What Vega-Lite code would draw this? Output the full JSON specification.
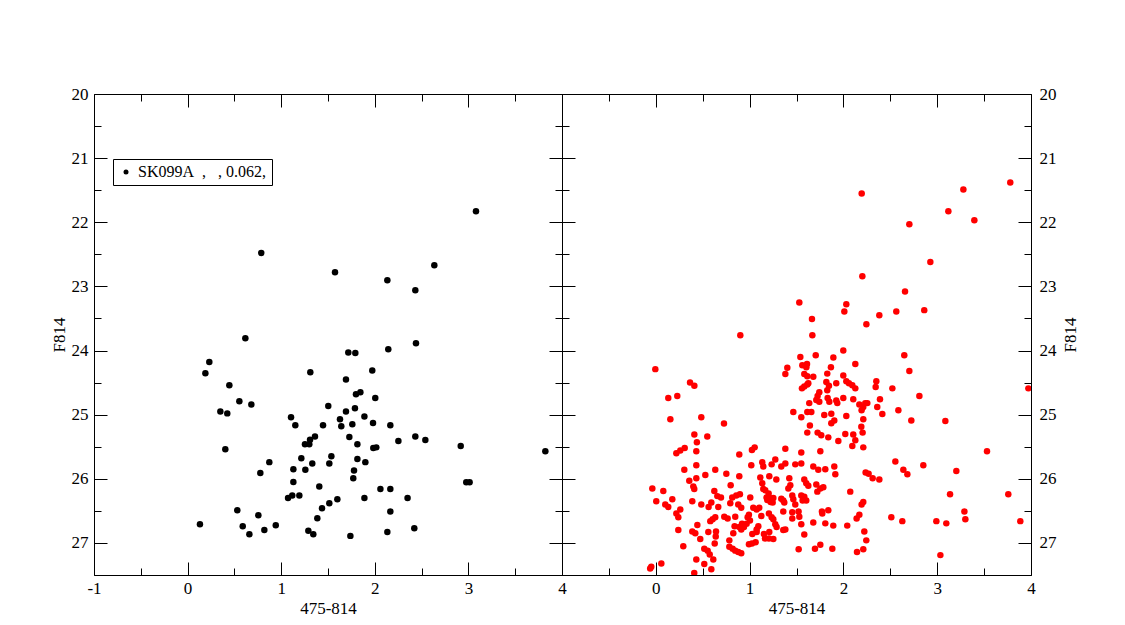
{
  "$schema": "https://vega.github.io/schema/vega-lite/v6.json",
  "background": "white",
  "padding": {"left": 50, "top": 85, "right": 5, "bottom": 5},
  "spacing": 0,
  "bounds": "flush",
  "config": {
    "font": "Liberation Serif",
    "view": {"stroke": null},
    "axis": {
      "grid": false, "domainColor": "black", "domainWidth": 1, "tickColor": "black", "tickWidth": 1,
      "labelColor": "black", "titleColor": "black", "labelFont": "Liberation Serif", "titleFont": "Liberation Serif",
      "labelFontSize": 17, "titleFontSize": 17, "titleFontWeight": "normal", "labelFlush": false, "labelOverlap": false, "format": "d"
    }
  },
  "datasets": {
    "left": [
      {"x":0.787,"y":22.48},{"x":1.575,"y":22.78},{"x":0.617,"y":23.81},{"x":0.232,"y":24.18},{"x":0.19,"y":24.355},{"x":1.311,"y":24.34},
      {"x":3.081,"y":21.83},{"x":2.636,"y":22.67},{"x":2.134,"y":22.905},{"x":2.433,"y":23.06},{"x":2.44,"y":23.887},{"x":1.717,"y":24.03},
      {"x":1.792,"y":24.04},{"x":2.144,"y":23.98},{"x":1.973,"y":24.31},{"x":1.692,"y":24.45},{"x":0.446,"y":24.54},{"x":0.553,"y":24.79},
      {"x":0.681,"y":24.84},{"x":0.35,"y":24.95},{"x":0.424,"y":24.98},{"x":1.503,"y":24.865},{"x":1.105,"y":25.04},{"x":1.151,"y":25.165},
      {"x":1.447,"y":25.165},{"x":1.361,"y":25.34},{"x":1.308,"y":25.39},{"x":1.254,"y":25.46},{"x":1.3,"y":25.46},{"x":0.403,"y":25.54},
      {"x":1.215,"y":25.68},{"x":1.536,"y":25.65},{"x":1.514,"y":25.76},{"x":0.873,"y":25.74},{"x":1.332,"y":25.76},{"x":1.13,"y":25.85},
      {"x":1.258,"y":25.86},{"x":0.777,"y":25.91},{"x":1.13,"y":26.05},{"x":1.407,"y":26.12},{"x":1.073,"y":26.3},{"x":1.118,"y":26.26},
      {"x":1.194,"y":26.26},{"x":1.514,"y":26.38},{"x":1.436,"y":26.46},{"x":1.386,"y":26.615},{"x":0.531,"y":26.49},{"x":0.756,"y":26.57},
      {"x":0.132,"y":26.71},{"x":0.589,"y":26.74},{"x":0.942,"y":26.725},{"x":0.82,"y":26.8},{"x":0.66,"y":26.865},{"x":1.29,"y":26.81},
      {"x":1.343,"y":26.865},{"x":1.799,"y":24.68},{"x":1.846,"y":24.65},{"x":2.005,"y":24.74},{"x":1.692,"y":24.95},{"x":1.788,"y":24.9},
      {"x":1.628,"y":25.07},{"x":1.642,"y":25.18},{"x":1.76,"y":25.15},{"x":1.889,"y":25.03},{"x":1.981,"y":25.13},{"x":2.166,"y":25.165},
      {"x":1.728,"y":25.35},{"x":1.814,"y":25.46},{"x":2.252,"y":25.41},{"x":2.433,"y":25.34},{"x":2.54,"y":25.395},{"x":1.984,"y":25.52},
      {"x":2.016,"y":25.51},{"x":2.918,"y":25.49},{"x":3.822,"y":25.57},{"x":1.814,"y":25.69},{"x":1.899,"y":25.74},{"x":1.778,"y":25.87},
      {"x":1.77,"y":25.99},{"x":2.977,"y":26.055},{"x":3.013,"y":26.055},{"x":2.06,"y":26.16},{"x":2.166,"y":26.16},{"x":1.6,"y":26.32},
      {"x":1.889,"y":26.3},{"x":2.35,"y":26.3},{"x":2.166,"y":26.51},{"x":2.422,"y":26.77},{"x":2.134,"y":26.83},{"x":1.739,"y":26.89}
    ],
    "right": [
      {"x":-0.005,"y":24.29},{"x":0.901,"y":23.76},{"x":1.402,"y":24.27},{"x":2.195,"y":21.55},{"x":3.779,"y":21.38},{"x":3.279,"y":21.49},
      {"x":3.119,"y":21.83},{"x":3.396,"y":21.97},{"x":2.703,"y":22.03},{"x":2.927,"y":22.62},{"x":2.202,"y":22.84},{"x":2.657,"y":23.08},
      {"x":1.53,"y":23.25},{"x":2.031,"y":23.28},{"x":2.01,"y":23.39},{"x":2.564,"y":23.39},{"x":2.862,"y":23.37},{"x":2.383,"y":23.45},
      {"x":1.665,"y":23.51},{"x":2.245,"y":23.59},{"x":1.669,"y":23.76},{"x":1.999,"y":24.0},{"x":2.649,"y":24.075},{"x":1.541,"y":24.1},
      {"x":1.705,"y":24.075},{"x":1.893,"y":24.11},{"x":1.562,"y":24.23},{"x":1.612,"y":24.21},{"x":1.605,"y":24.26},{"x":1.867,"y":24.26},
      {"x":2.127,"y":24.21},{"x":2.703,"y":24.32},
      {"x":0.365,"y":24.5},{"x":0.411,"y":24.55},{"x":0.133,"y":24.74},{"x":0.229,"y":24.71},{"x":0.485,"y":25.04},{"x":0.155,"y":25.07},
      {"x":0.411,"y":25.31},{"x":0.549,"y":25.34},{"x":0.438,"y":25.43},{"x":0.219,"y":25.6},{"x":0.261,"y":25.56},{"x":0.308,"y":25.52},
      {"x":0.432,"y":25.57},{"x":0.432,"y":25.79},{"x":0.304,"y":25.86},{"x":0.528,"y":25.94},{"x":0.634,"y":25.86},{"x":0.432,"y":25.99},
      {"x":0.357,"y":26.03},{"x":0.4,"y":26.12},{"x":0.41,"y":26.16},{"x":-0.037,"y":26.15},{"x":0.08,"y":26.19},{"x":0.624,"y":26.19},
      {"x":0.656,"y":26.27},{"x":0.176,"y":26.32},{"x":0.005,"y":26.35},{"x":0.389,"y":26.35},{"x":0.101,"y":26.4},{"x":0.133,"y":26.44},
      {"x":0.485,"y":26.4},{"x":0.592,"y":26.37},{"x":0.563,"y":26.44},{"x":0.666,"y":26.44},{"x":0.261,"y":26.48},{"x":0.219,"y":26.54},
      {"x":0.24,"y":26.6},{"x":0.581,"y":26.66},{"x":0.606,"y":26.63},{"x":0.634,"y":26.6},{"x":0.443,"y":26.72},{"x":0.24,"y":26.8},
      {"x":0.389,"y":26.82},{"x":0.421,"y":26.85},{"x":0.56,"y":26.83},{"x":0.642,"y":26.82},{"x":0.639,"y":26.9},{"x":0.628,"y":27.01},
      {"x":0.474,"y":26.94},{"x":0.293,"y":27.05},{"x":0.517,"y":27.09},{"x":0.553,"y":27.12},{"x":0.575,"y":27.18},{"x":0.432,"y":27.26},
      {"x":0.613,"y":27.26},{"x":0.059,"y":27.32},{"x":-0.048,"y":27.37},{"x":-0.06,"y":27.4},{"x":0.517,"y":27.33},{"x":0.592,"y":27.41},
      {"x":0.41,"y":27.47},
      {"x":1.381,"y":24.366},{"x":1.583,"y":24.366},{"x":1.615,"y":24.4},{"x":1.679,"y":24.41},{"x":1.828,"y":24.36},{"x":1.999,"y":24.39},
      {"x":1.558,"y":24.59},{"x":1.583,"y":24.56},{"x":1.615,"y":24.53},{"x":1.626,"y":24.51},{"x":1.818,"y":24.49},{"x":1.846,"y":24.55},
      {"x":1.828,"y":24.62},{"x":1.924,"y":24.51},{"x":2.031,"y":24.48},{"x":2.059,"y":24.51},{"x":2.095,"y":24.54},{"x":2.127,"y":24.59},
      {"x":2.351,"y":24.48},{"x":2.344,"y":24.57},{"x":1.743,"y":24.65},{"x":1.725,"y":24.71},{"x":1.711,"y":24.77},{"x":1.743,"y":24.8},
      {"x":1.636,"y":24.82},{"x":1.832,"y":24.74},{"x":1.85,"y":24.8},{"x":1.924,"y":24.78},{"x":1.935,"y":24.82},{"x":1.999,"y":24.74},
      {"x":2.105,"y":24.76},{"x":2.17,"y":24.84},{"x":2.212,"y":24.88},{"x":2.194,"y":24.93},{"x":2.233,"y":24.82},{"x":2.255,"y":24.82},
      {"x":2.361,"y":24.88},{"x":1.466,"y":24.96},{"x":1.615,"y":24.96},{"x":1.658,"y":24.96},{"x":1.551,"y":25.04},{"x":1.796,"y":25.005},
      {"x":1.871,"y":24.985},{"x":2.031,"y":25.02},{"x":2.212,"y":25.07},{"x":1.871,"y":25.135},{"x":1.903,"y":25.09},{"x":1.643,"y":25.17},
      {"x":2.191,"y":25.19},{"x":1.615,"y":25.28},{"x":1.725,"y":25.28},{"x":1.764,"y":25.32},{"x":1.839,"y":25.354},{"x":1.946,"y":25.41},
      {"x":2.02,"y":25.3},{"x":2.105,"y":25.31},{"x":2.127,"y":25.4},{"x":2.205,"y":25.28},{"x":2.095,"y":25.49},{"x":2.212,"y":25.51},
      {"x":0.727,"y":25.136},{"x":1.025,"y":25.55},{"x":1.054,"y":25.51},{"x":0.89,"y":25.62},{"x":1.381,"y":25.53},{"x":1.551,"y":25.59},
      {"x":1.754,"y":25.57},{"x":1.018,"y":25.79},{"x":1.135,"y":25.74},{"x":1.146,"y":25.81},{"x":1.235,"y":25.775},{"x":1.274,"y":25.7},
      {"x":1.338,"y":25.81},{"x":1.381,"y":25.76},{"x":1.487,"y":25.775},{"x":1.551,"y":25.76},{"x":1.679,"y":25.81},{"x":1.732,"y":25.86},
      {"x":1.807,"y":25.85},{"x":1.903,"y":25.81},{"x":1.914,"y":25.93},{"x":0.752,"y":25.92},{"x":0.89,"y":25.96},{"x":1.114,"y":25.98},
      {"x":1.135,"y":26.07},{"x":1.146,"y":26.16},{"x":1.21,"y":25.96},{"x":1.285,"y":26.01},{"x":1.423,"y":25.99},{"x":1.434,"y":26.1},
      {"x":1.413,"y":26.15},{"x":1.583,"y":26.01},{"x":1.604,"y":26.07},{"x":1.626,"y":26.11},{"x":1.711,"y":26.09},{"x":1.754,"y":26.15},
      {"x":1.786,"y":26.13},{"x":1.722,"y":26.2},{"x":0.798,"y":26.1},{"x":0.695,"y":26.29},{"x":0.815,"y":26.29},{"x":0.858,"y":26.26},
      {"x":0.897,"y":26.24},{"x":0.794,"y":26.38},{"x":0.879,"y":26.4},{"x":0.911,"y":26.45},{"x":1.007,"y":26.29},{"x":1.167,"y":26.18},
      {"x":1.203,"y":26.23},{"x":1.181,"y":26.29},{"x":1.213,"y":26.3},{"x":1.224,"y":26.36},{"x":1.189,"y":26.33},{"x":1.253,"y":26.3},
      {"x":1.246,"y":26.37},{"x":1.338,"y":26.31},{"x":1.37,"y":26.37},{"x":1.359,"y":26.34},{"x":1.455,"y":26.26},{"x":1.466,"y":26.32},
      {"x":1.551,"y":26.26},{"x":1.583,"y":26.28},{"x":1.604,"y":26.34},{"x":1.565,"y":26.34},{"x":1.487,"y":26.4},{"x":1.039,"y":26.45},
      {"x":1.075,"y":26.48},{"x":1.103,"y":26.45},{"x":1.125,"y":26.58},{"x":1.206,"y":26.54},{"x":1.235,"y":26.6},{"x":1.253,"y":26.63},
      {"x":1.359,"y":26.51},{"x":1.455,"y":26.52},{"x":1.455,"y":26.62},{"x":1.522,"y":26.51},{"x":1.53,"y":26.59},{"x":0.73,"y":26.59},
      {"x":0.766,"y":26.62},{"x":0.847,"y":26.59},{"x":0.979,"y":26.6},{"x":0.993,"y":26.56},{"x":1.004,"y":26.65},{"x":0.968,"y":26.7},
      {"x":0.94,"y":26.75},{"x":0.911,"y":26.79},{"x":0.89,"y":26.75},{"x":0.919,"y":26.7},{"x":0.84,"y":26.74},{"x":1.093,"y":26.74},
      {"x":1.075,"y":26.79},{"x":1.274,"y":26.71},{"x":1.288,"y":26.75},{"x":1.359,"y":26.8},{"x":1.381,"y":26.79},{"x":1.551,"y":26.71},
      {"x":1.679,"y":26.68},{"x":1.775,"y":26.54},{"x":1.771,"y":26.51},{"x":1.839,"y":26.49},{"x":1.807,"y":26.695},{"x":1.892,"y":26.73},
      {"x":2.041,"y":26.73},{"x":2.073,"y":26.2},{"x":2.237,"y":25.9},{"x":2.269,"y":25.92},{"x":2.312,"y":25.99},{"x":2.383,"y":26.01},
      {"x":2.212,"y":26.36},{"x":2.194,"y":26.4},{"x":2.17,"y":26.56},{"x":2.141,"y":26.62},{"x":2.223,"y":26.82},{"x":2.244,"y":26.96},
      {"x":0.826,"y":26.85},{"x":0.784,"y":26.96},{"x":1.029,"y":26.86},{"x":1.075,"y":26.83},{"x":1.064,"y":26.99},{"x":1.025,"y":27.01},
      {"x":0.993,"y":27.02},{"x":1.164,"y":26.93},{"x":1.206,"y":26.93},{"x":1.253,"y":26.94},{"x":1.153,"y":26.86},{"x":1.21,"y":26.83},
      {"x":1.583,"y":26.87},{"x":0.784,"y":27.06},{"x":0.819,"y":27.09},{"x":0.847,"y":27.12},{"x":0.879,"y":27.14},{"x":0.911,"y":27.16},
      {"x":1.523,"y":27.1},{"x":1.697,"y":27.09},{"x":1.754,"y":27.03},{"x":1.882,"y":27.09},{"x":2.145,"y":27.14},{"x":2.212,"y":27.1},
      {"x":2.522,"y":24.59},{"x":2.81,"y":24.71},{"x":2.39,"y":24.76},{"x":2.415,"y":24.99},{"x":2.586,"y":24.93},{"x":2.724,"y":25.09},
      {"x":3.087,"y":25.1},{"x":3.972,"y":24.59},{"x":3.531,"y":25.57},{"x":2.554,"y":25.73},{"x":2.852,"y":25.79},{"x":2.639,"y":25.86},
      {"x":2.682,"y":25.93},{"x":3.204,"y":25.88},{"x":3.137,"y":26.24},{"x":3.758,"y":26.24},{"x":3.29,"y":26.51},{"x":3.3,"y":26.63},
      {"x":2.511,"y":26.6},{"x":2.628,"y":26.66},{"x":2.991,"y":26.66},{"x":3.097,"y":26.695},{"x":3.886,"y":26.66},{"x":3.034,"y":27.19}
    ]
  },
  "hconcat": [
    {
      "width": 468, "height": 481,
      "data": {"name": "left"},
      "transform": [{"calculate": "'SK099A\u00a0\u00a0,\u00a0\u00a0\u00a0, 0.062,'", "as": "set"}],
      "layer": [
        {
          "mark": {"type": "point", "filled": true, "size": 42, "opacity": 1, "shape": "circle", "clip": true},
          "encoding": {
            "x": {"field": "x", "type": "quantitative", "scale": {"domain": [-1, 4], "nice": false, "zero": false},
              "axis": {"orient": "bottom", "title": "475-814", "values": [-1,-0.5,0,0.5,1,1.5,2,2.5,3,3.5,4],
                "labelExpr": "datum.value % 1 === 0 ? replace(datum.label, '\u2212', '-') : ''",
                "tickSize": {"condition": {"test": "datum.value % 1 !== 0", "value": -7}, "value": -13},
                "labelPadding": 18, "titlePadding": -2}},
            "y": {"field": "y", "type": "quantitative", "scale": {"domain": [20, 27.5], "reverse": true, "nice": false, "zero": false},
              "axis": {"orient": "left", "title": "F814", "values": [20,20.5,21,21.5,22,22.5,23,23.5,24,24.5,25,25.5,26,26.5,27,27.5],
                "labelExpr": "datum.value % 1 === 0 ? datum.label : ''",
                "tickSize": {"condition": {"test": "datum.value % 1 !== 0", "value": -7}, "value": -13},
                "labelPadding": 19, "titlePadding": 3}},
            "color": {"field": "set", "type": "nominal", "scale": {"range": ["#000000"]},
              "legend": {"orient": "none", "legendX": 19, "legendY": 65, "title": null, "strokeColor": "black", "fillColor": "white",
                "padding": 5, "cornerRadius": 0, "labelFont": "Liberation Serif", "labelFontSize": 16, "labelColor": "black",
                "symbolSize": 25, "symbolType": "circle", "symbolFillColor": "black", "symbolStrokeWidth": 0, "labelLimit": 400}}
          }
        },
        {
          "mark": {"type": "point", "opacity": 0},
          "encoding": {
            "x": {"field": "x", "type": "quantitative",
              "axis": {"orient": "top", "title": null, "labels": false, "values": [-1,-0.5,0,0.5,1,1.5,2,2.5,3,3.5,4],
                "tickSize": {"condition": {"test": "datum.value % 1 !== 0", "value": -7}, "value": -13}}},
            "y": {"field": "y", "type": "quantitative",
              "axis": {"orient": "right", "title": null, "labels": false, "values": [20,20.5,21,21.5,22,22.5,23,23.5,24,24.5,25,25.5,26,26.5,27,27.5],
                "tickSize": {"condition": {"test": "datum.value % 1 !== 0", "value": -7}, "value": -13}}}
          }
        }
      ],
      "resolve": {"axis": {"x": "independent", "y": "independent"}}
    },
    {
      "width": 469, "height": 481,
      "data": {"name": "right"},
      "layer": [
        {
          "mark": {"type": "point", "filled": true, "size": 42, "opacity": 1, "shape": "circle", "color": "#ff0000", "clip": true},
          "encoding": {
            "x": {"field": "x", "type": "quantitative", "scale": {"domain": [-1, 4], "nice": false, "zero": false},
              "axis": {"orient": "bottom", "title": "475-814", "values": [-1,-0.5,0,0.5,1,1.5,2,2.5,3,3.5,4],
                "labelExpr": "datum.value % 1 === 0 && datum.value > -1 ? datum.label : ''",
                "tickSize": {"condition": {"test": "datum.value % 1 !== 0", "value": -7}, "value": -13},
                "labelPadding": 18, "titlePadding": -2}},
            "y": {"field": "y", "type": "quantitative", "scale": {"domain": [20, 27.5], "reverse": true, "nice": false, "zero": false},
              "axis": {"orient": "left", "title": null, "labels": false, "values": [20,20.5,21,21.5,22,22.5,23,23.5,24,24.5,25,25.5,26,26.5,27,27.5],
                "tickSize": {"condition": {"test": "datum.value % 1 !== 0", "value": -7}, "value": -13}}}
          }
        },
        {
          "mark": {"type": "point", "opacity": 0},
          "encoding": {
            "x": {"field": "x", "type": "quantitative",
              "axis": {"orient": "top", "title": null, "labels": false, "values": [-1,-0.5,0,0.5,1,1.5,2,2.5,3,3.5,4],
                "tickSize": {"condition": {"test": "datum.value % 1 !== 0", "value": -7}, "value": -13}}},
            "y": {"field": "y", "type": "quantitative",
              "axis": {"orient": "right", "title": "F814", "titleAngle": 270, "values": [20,20.5,21,21.5,22,22.5,23,23.5,24,24.5,25,25.5,26,26.5,27,27.5],
                "labelExpr": "datum.value % 1 === 0 ? datum.label : ''",
                "tickSize": {"condition": {"test": "datum.value % 1 !== 0", "value": -7}, "value": -13},
                "labelPadding": 21, "titlePadding": 23}}
          }
        }
      ],
      "resolve": {"axis": {"x": "independent", "y": "independent"}}
    }
  ]
}
